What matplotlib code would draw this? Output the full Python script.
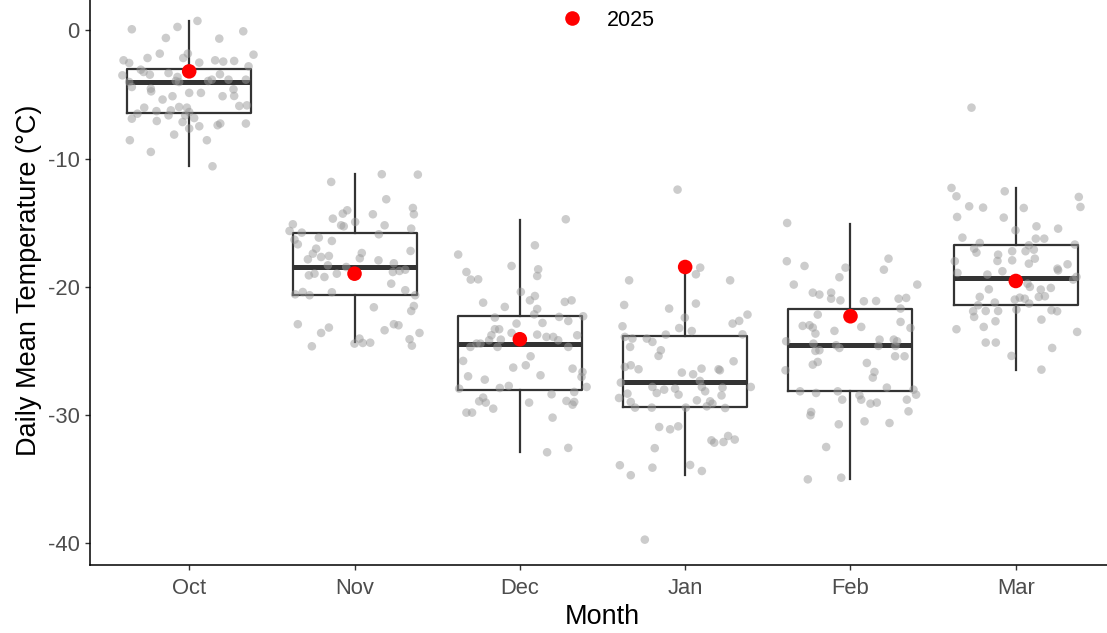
import matplotlib
matplotlib.use('Agg')
import matplotlib.pyplot as plt
from matplotlib.lines import Line2D

plt.rcParams['font.family'] = ['Liberation Sans', 'DejaVu Sans']
plt.rcParams['axes.unicode_minus'] = False

months = ['Oct', 'Nov', 'Dec', 'Jan', 'Feb', 'Mar']

# box statistics
q1 = [-6.42, -20.65, -28.00, -29.36, -28.14, -21.38]
med = [-4.03, -18.45, -24.42, -27.39, -24.55, -19.30]
q3 = [-3.04, -15.80, -22.27, -23.82, -21.75, -16.76]
whis_lo = [-10.6, -24.3, -32.86, -34.68, -34.94, -26.45]
whis_hi = [0.73, -11.22, -14.76, -18.5, -15.07, -12.3]

# 2025 daily mean per month
y2025 = [-3.20, -18.97, -24.08, -18.45, -22.29, -19.54]

# jittered daily values (offset from month centre, temperature)
oct_dx = [-0.347, -0.071, 0.050, -0.141, 0.182, 0.327, -0.178, -0.252, -0.397, -0.363,
          -0.036, -0.008, 0.061, 0.157, 0.206, 0.272, 0.389, 0.359, -0.293, -0.276,
          -0.404, -0.238, -0.125, -0.071, 0.186, -0.363, -0.347, -0.081, -0.061, 0.115,
          0.137, 0.238, 0.343, -0.232, -0.230, 0.0, 0.071, -0.101, -0.161, 0.202,
          0.268, 0.272, 0.303, 0.349, -0.272, -0.313, -0.347, -0.198, -0.196, -0.125,
          -0.111, -0.061, -0.014, 0.0, -0.024, 0.030, -0.040, 0.0, 0.061, 0.172,
          0.188, 0.343, -0.091, -0.359, 0.107, -0.232, 0.141]
oct_t = [0.08, 0.26, 0.73, -0.60, -0.65, -0.08, -1.82, -2.16, -2.34, -2.55,
         -2.16, -1.82, -2.52, -2.34, -2.44, -2.39, -1.90, -2.81, -3.07, -3.25,
         -3.51, -3.46, -3.33, -3.64, -3.43, -4.03, -4.42, -3.95, -4.03, -3.95,
         -3.85, -3.85, -3.85, -4.55, -4.76, -4.88, -4.88, -5.14, -5.40, -5.14,
         -4.60, -5.12, -5.90, -5.85, -6.03, -6.50, -6.89, -6.30, -7.07, -6.63,
         -6.24, -5.98, -6.03, -6.37, -6.63, -6.84, -7.15, -7.66, -7.48, -7.40,
         -7.27, -7.27, -8.13, -8.57, -8.57, -9.48, -10.60]

nov_dx = [-0.141, 0.165, 0.383, 0.192, 0.353, 0.359, -0.071, -0.044, -0.131, 0.111,
          0.004, -0.081, -0.065, -0.373, -0.393, -0.319, -0.363, -0.343, -0.216, -0.137,
          0.147, 0.182, 0.343, -0.232, -0.252, -0.282, -0.202, -0.155, 0.044, 0.032,
          0.145, 0.339, 0.238, -0.161, -0.050, -0.276, -0.242, -0.182, -0.107, 0.232,
          0.272, 0.307, 0.222, -0.359, -0.313, -0.272, -0.137, 0.307, 0.367, 0.117,
          0.359, 0.343, -0.343, -0.202, -0.155, 0.182, 0.238, 0.266, 0.393, -0.258,
          0.0, 0.030, 0.050, 0.095, 0.333, 0.347]
nov_t = [-11.82, -11.22, -11.25, -13.17, -13.85, -14.34, -14.29, -14.03, -14.68, -14.34,
         -14.94, -15.20, -15.28, -15.12, -15.64, -15.77, -16.32, -16.68, -16.16, -16.42,
         -15.90, -15.20, -15.46, -17.02, -17.41, -17.85, -17.67, -17.59, -17.36, -17.77,
         -17.93, -17.20, -18.16, -18.32, -18.45, -19.10, -18.97, -19.23, -18.97, -18.84,
         -18.76, -18.66, -19.75, -20.58, -20.40, -20.65, -20.42, -20.26, -20.65, -21.59,
         -21.49, -21.88, -22.91, -23.59, -23.17, -23.38, -22.91, -22.99, -23.59, -24.63,
         -24.42, -24.03, -24.37, -24.35, -24.08, -24.58]

dec_dx = [0.278, 0.091, -0.373, -0.050, -0.323, -0.297, -0.252, 0.111, 0.105, 0.006,
          -0.222, -0.091, 0.061, 0.091, 0.272, 0.313, 0.105, 0.087, -0.151, 0.238,
          0.383, -0.020, 0.137, 0.293, -0.151, -0.125, -0.172, -0.186, -0.115, -0.050,
          -0.262, -0.238, -0.299, -0.135, 0.105, 0.161, 0.202, 0.232, 0.347, 0.293,
          0.065, 0.036, -0.343, -0.040, 0.125, 0.319, 0.379, 0.373, -0.313, -0.212,
          -0.367, -0.121, -0.067, 0.404, 0.192, 0.329, -0.246, -0.222, -0.206, -0.161,
          0.056, 0.282, 0.319, 0.329, -0.323, -0.289, 0.198, 0.165, 0.293]
dec_t = [-14.73, -16.76, -17.48, -18.37, -18.84, -19.43, -19.41, -18.63, -19.15, -20.39,
         -21.23, -21.56, -21.05, -20.71, -21.17, -21.05, -21.72, -22.14, -22.39, -22.34,
         -22.29, -22.86, -22.81, -22.66, -23.30, -23.30, -23.77, -24.16, -24.11, -23.59,
         -24.42, -24.42, -24.68, -24.68, -23.72, -23.90, -23.90, -24.16, -23.77, -24.68,
         -25.41, -26.11, -25.77, -26.29, -26.89, -26.37, -26.63, -27.02, -26.97, -27.23,
         -27.93, -27.88, -27.72, -27.80, -28.37, -28.19, -28.92, -28.63, -29.02, -29.49,
         -29.02, -28.89, -29.18, -28.97, -29.80, -29.80, -30.19, -32.89, -32.55]

jan_dx = [-0.046, 0.091, 0.065, -0.339, 0.272, -0.369, -0.097, 0.065, -0.002, -0.036,
          0.040, -0.379, 0.287, 0.327, 0.377, 0.347, -0.365, -0.319, -0.232, -0.198,
          -0.117, -0.333, -0.147, -0.161, -0.329, -0.282, -0.365, 0.293, -0.020, 0.048,
          0.099, 0.202, 0.210, -0.389, -0.198, -0.172, -0.127, -0.061, -0.040, 0.089,
          0.101, 0.121, 0.226, 0.220, 0.397, -0.400, -0.349, -0.329, -0.303, -0.202,
          0.004, 0.071, 0.131, 0.151, 0.165, 0.242, -0.157, -0.091, -0.042, 0.159,
          0.176, 0.232, 0.260, 0.300, -0.184, -0.395, -0.329, -0.198, 0.030, 0.101,
          -0.244]
jan_t = [-12.42, -18.50, -19.02, -19.49, -19.49, -21.41, -21.69, -21.30, -22.40, -23.21,
         -23.44, -23.07, -22.86, -22.65, -22.16, -23.70, -23.90, -24.03, -24.03, -24.29,
         -23.72, -24.68, -24.94, -25.38, -26.11, -26.42, -26.24, -25.80, -26.68, -26.81,
         -26.37, -26.42, -26.50, -27.46, -27.80, -28.27, -28.01, -27.93, -28.40, -27.33,
         -27.80, -28.14, -27.85, -28.46, -27.80, -28.66, -28.32, -28.97, -29.41, -29.41,
         -29.41, -28.84, -29.31, -28.92, -29.10, -29.44, -30.92, -31.10, -30.87, -31.96,
         -32.14, -32.09, -31.62, -31.90, -32.57, -33.90, -34.68, -34.09, -33.88, -34.35,
         -39.70]

feb_dx = [-0.383, -0.385, -0.278, -0.030, -0.067, 0.202, 0.230, -0.343, 0.404, -0.228,
          -0.188, -0.117, -0.117, -0.061, 0.081, 0.155, 0.291, 0.337, 0.303, -0.198,
          -0.289, -0.248, -0.228, -0.212, -0.097, 0.065, 0.303, 0.363, -0.389, -0.224,
          -0.087, -0.067, -0.212, -0.188, 0.176, 0.169, 0.262, 0.282, 0.272, 0.270,
          0.327, -0.198, -0.228, -0.393, 0.099, 0.145, 0.135, 0.220, -0.305, -0.208,
          -0.077, -0.050, 0.054, 0.065, 0.121, 0.159, 0.381, 0.397, 0.341, 0.351,
          -0.238, -0.242, -0.071, 0.085, 0.236, -0.147, -0.258, -0.056]
feb_t = [-15.02, -18.00, -18.37, -18.50, -19.25, -18.66, -17.80, -19.82, -19.82, -20.45,
         -20.60, -20.45, -20.92, -21.05, -21.12, -21.10, -20.92, -20.86, -21.69, -22.16,
         -23.04, -22.99, -23.17, -23.64, -23.43, -23.12, -22.73, -23.20, -24.24, -24.42,
         -24.55, -24.76, -24.99, -24.94, -24.11, -24.60, -24.11, -24.24, -24.60, -25.41,
         -25.41, -25.85, -26.06, -26.50, -25.93, -26.63, -27.07, -27.85, -28.14, -28.27,
         -28.14, -28.79, -28.45, -28.79, -29.10, -29.02, -28.01, -28.40, -28.79, -29.70,
         -29.75, -30.01, -30.71, -30.48, -30.61, -32.48, -35.00, -34.87]

mar_dx = [-0.268, -0.389, -0.359, -0.067, 0.381, 0.391, -0.282, -0.198, 0.048, -0.355,
          -0.073, 0.125, 0.256, -0.002, -0.323, -0.218, 0.121, 0.172, -0.252, -0.238,
          -0.107, -0.111, -0.022, -0.022, 0.059, 0.079, 0.109, 0.115, 0.079, 0.357,
          -0.369, -0.353, -0.172, -0.081, 0.252, 0.313, 0.256, 0.347, 0.367, -0.163,
          0.071, 0.085, 0.151, 0.212, -0.218, -0.127, -0.228, -0.006, 0.024, 0.054,
          0.081, 0.139, 0.176, -0.258, -0.252, -0.182, -0.107, 0.004, 0.216, 0.250,
          -0.123, 0.155, -0.359, -0.194, 0.371, -0.182, -0.121, 0.220, -0.026, 0.155]
mar_t = [-6.03, -12.29, -12.94, -12.55, -12.99, -13.77, -13.72, -13.82, -13.85, -14.55,
         -14.60, -15.28, -15.46, -15.59, -16.16, -16.58, -16.24, -16.24, -17.02, -17.33,
         -17.49, -17.98, -17.22, -17.93, -17.22, -16.76, -17.10, -17.80, -18.19, -16.70,
         -18.00, -18.91, -19.04, -18.78, -18.58, -18.24, -18.71, -19.43, -19.22, -20.19,
         -19.75, -20.00, -20.21, -20.08, -20.78, -21.22, -21.43, -20.99, -20.84, -20.92,
         -21.30, -20.78, -20.73, -21.90, -22.34, -21.88, -21.88, -21.77, -21.82, -21.90,
         -22.68, -22.55, -23.30, -23.12, -23.51, -24.34, -24.34, -24.76, -25.38, -26.45]

jitter_dx = [oct_dx, nov_dx, dec_dx, jan_dx, feb_dx, mar_dx]
daily_t = [oct_t, nov_t, dec_t, jan_t, feb_t, mar_t]

fig = plt.figure(figsize=(11.07, 6.33), dpi=100)
ax = fig.add_axes([90 / 1107, 67.7 / 633, 1025 / 1107, 570.3 / 633])

pos = list(range(1, len(months) + 1))

stats = []
for i in range(len(months)):
    stats.append({'med': med[i], 'q1': q1[i], 'q3': q3[i],
                  'whislo': whis_lo[i], 'whishi': whis_hi[i], 'fliers': []})

line_col = '#333333'
ax.bxp(stats, positions=pos, widths=0.75, showfliers=False, showcaps=False,
       patch_artist=False,
       boxprops=dict(color=line_col, linewidth=1.6),
       whiskerprops=dict(color=line_col, linewidth=1.6),
       medianprops=dict(color=line_col, linewidth=3.6, solid_capstyle='butt'),
       zorder=2)

for i in range(len(months)):
    xs = [pos[i] + d for d in jitter_dx[i]]
    ax.scatter(xs, daily_t[i], s=38, color='#9a9a9a', alpha=0.5,
               edgecolors='none', zorder=3)

ax.scatter(pos, y2025, s=110, color='#ff0000', edgecolors='none', zorder=4)

ax.set_xlim(0.4, 6.6)
ax.set_ylim(-41.7, 2.75)
ax.set_xticks(pos)
ax.set_xticklabels(months)
ax.set_yticks([0, -10, -20, -30, -40])

for s in ['top', 'right']:
    ax.spines[s].set_visible(False)
for s in ['left', 'bottom']:
    ax.spines[s].set_color('black')
    ax.spines[s].set_linewidth(1.1)

ax.tick_params(axis='both', colors='#333333', labelcolor='#4d4d4d',
               labelsize=15.8, length=3.5, width=1.0)
ax.tick_params(axis='x', pad=6)
ax.tick_params(axis='y', pad=4)

ax.set_xlabel('Month', fontsize=19.5, color='black', labelpad=3)
ax.set_ylabel('Daily Mean Temperature (\u00b0C)', fontsize=19.5, color='black', labelpad=4)

handle = Line2D([], [], marker='o', linestyle='none', markersize=10.5,
                markerfacecolor='#ff0000', markeredgecolor='none')
fig.legend(handles=[handle], labels=['2025'], loc='center left',
           bbox_to_anchor=(561 / 1107, 1 - 20 / 633), frameon=False,
           fontsize=15.5, handlelength=1.0, handletextpad=1.15,
           borderpad=0, borderaxespad=0)

plt.savefig('out.png', dpi=100)
plt.close()
